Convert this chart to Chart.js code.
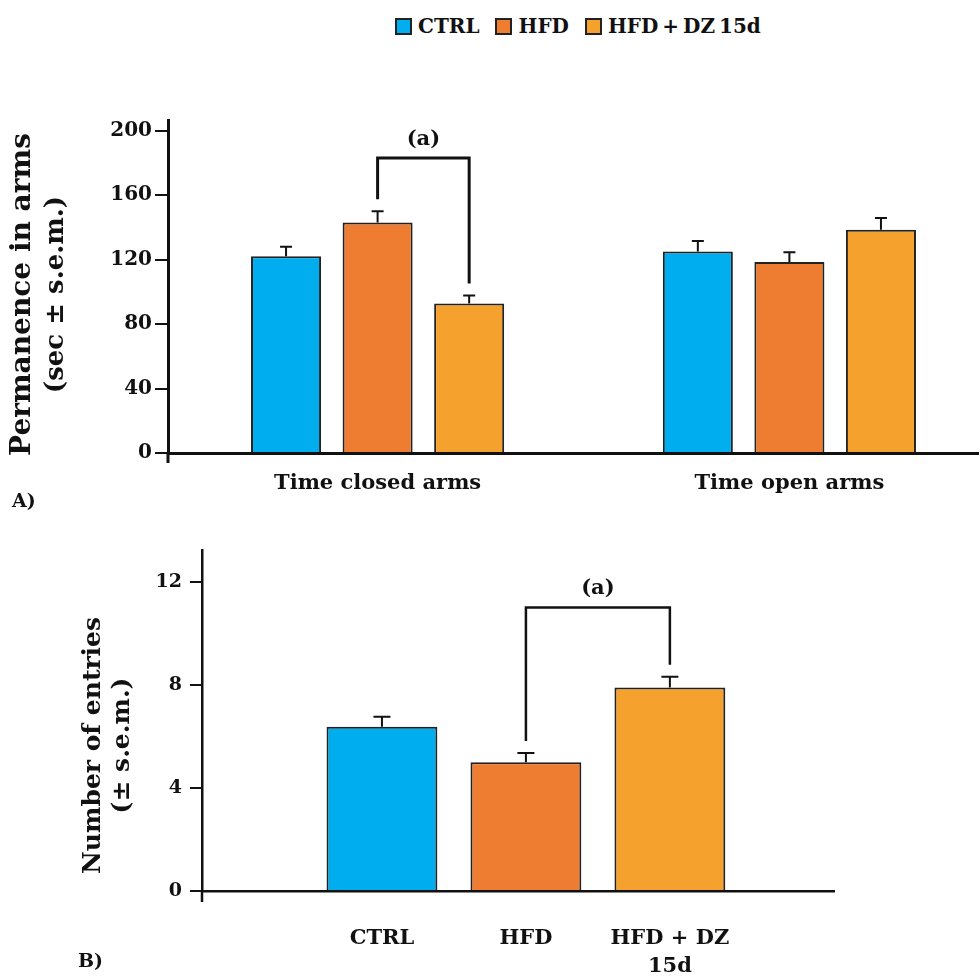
<!DOCTYPE html>
<html>
<head>
<meta charset="utf-8">
<script src="https://cdn.jsdelivr.net/npm/chart.js@4.4.1/dist/chart.umd.min.js"></script>
<style>
  html, body { margin: 0; padding: 0; background: #fff; }
  body { width: 980px; height: 976px; position: relative; overflow: hidden; font-family: 'DejaVu Serif', serif; color: #111; }
  #legend { position: absolute; left: 395px; top: 14px; display: flex; align-items: center; font-weight: bold; font-size: 20px; line-height: 24px; word-spacing: -3px; }
  #legend .item { display: flex; align-items: center; margin-right: 16px; }
  #legend .sw { width: 13px; height: 13px; border: 2px solid #222; margin-right: 6px; }
  #wrapA { position: absolute; left: 0; top: 0; width: 980px; height: 510px; }
  #wrapB { position: absolute; left: 0; top: 510px; width: 980px; height: 466px; }
  .panel { position: absolute; font-weight: bold; font-size: 19px; line-height: 20px; }
</style>
</head>
<body>
<div id="legend"></div>
<div id="wrapA"><canvas id="timeChart" width="980" height="510"></canvas></div>
<div id="wrapB"><canvas id="entryChart" width="980" height="466"></canvas></div>
<div class="panel" style="left:12px; top:490px;">A)</div>
<div class="panel" style="left:78px; top:950px;">B)</div>
<script>
// ---- Series ----
const seriesNames = ['CTRL', 'HFD', 'HFD + DZ 15d'];
const seriesColors = ['#00AEEF', '#EE7D31', '#F4A22D'];

// ---- Panel A: permanence in arms (s) ----
const armGroups = ['Time closed arms', 'Time open arms'];
const ctrlTime = [122, 125];
const hfdTime = [143, 118.5];
const hfdDzTime = [92.7, 138.5];
const ctrlTimeSem = [6, 6.5];
const hfdTimeSem = [7, 6];
const hfdDzTimeSem = [5, 7.3];
const timeTicks = [0, 40, 80, 120, 160, 200];
const timeBracketTop = 183;
const timeTitle = ['Permanence in arms', '(sec ± s.e.m.)'];

// ---- Panel B: number of entries ----
const entryLabels = [['CTRL'], ['HFD'], ['HFD + DZ', '15d']];
const entries = [6.37, 5.0, 7.9];
const entriesSem = [0.39, 0.35, 0.41];
const entryTicks = [0, 4, 8, 12];
const entryBracketTop = 11.0;
const entryTitle = ['Number of entries', '(± s.e.m.)'];

const FONT = "'DejaVu Serif', serif";
const INK = '#111';

// Legend built from the series arrays
const legendEl = document.getElementById('legend');
seriesNames.forEach((name, i) => {
  const item = document.createElement('div');
  item.className = 'item';
  const sw = document.createElement('span');
  sw.className = 'sw';
  sw.style.background = seriesColors[i];
  const tx = document.createElement('span');
  tx.textContent = name;
  item.appendChild(sw);
  item.appendChild(tx);
  legendEl.appendChild(item);
});

// Upward error bars (mean + s.e.m.) on every bar
const errorBars = {
  id: 'errorBars',
  afterDatasetsDraw(chart, args, opts) {
    const { ctx } = chart;
    const yScale = chart.scales.y;
    ctx.save();
    ctx.strokeStyle = INK;
    ctx.lineWidth = opts.width;
    chart.data.datasets.forEach((ds, di) => {
      const meta = chart.getDatasetMeta(di);
      meta.data.forEach((bar, i) => {
        const v = ds.data[i].y;
        const top = yScale.getPixelForValue(v + ds.sem[i]);
        ctx.beginPath();
        ctx.moveTo(bar.x, bar.y);
        ctx.lineTo(bar.x, top);
        ctx.moveTo(bar.x - opts.cap / 2, top);
        ctx.lineTo(bar.x + opts.cap / 2, top);
        ctx.stroke();
      });
    });
    ctx.restore();
  }
};

// Significance bracket between two bars with its label
const bracket = {
  id: 'bracket',
  afterDatasetsDraw(chart, args, opts) {
    const { ctx } = chart;
    const yScale = chart.scales.y;
    const endY = (ref) => {
      const ds = chart.data.datasets[ref.dataset];
      const bar = chart.getDatasetMeta(ref.dataset).data[ref.index];
      const v = ds.data[ref.index].y + ds.sem[ref.index];
      return { x: bar.x, y: yScale.getPixelForValue(v) - opts.gap };
    };
    const a = endY(opts.from);
    const b = endY(opts.to);
    const top = yScale.getPixelForValue(opts.top);
    ctx.save();
    ctx.strokeStyle = INK;
    ctx.lineWidth = opts.width;
    ctx.lineJoin = 'miter';
    ctx.beginPath();
    ctx.moveTo(a.x, a.y);
    ctx.lineTo(a.x, top);
    ctx.lineTo(b.x, top);
    ctx.lineTo(b.x, b.y);
    ctx.stroke();
    ctx.fillStyle = INK;
    ctx.font = 'bold 21px ' + FONT;
    ctx.textAlign = 'center';
    ctx.textBaseline = 'middle';
    ctx.fillText(opts.label, (a.x + b.x) / 2, top - opts.labelOffset);
    ctx.restore();
  }
};

// Short continuation of the y axis below the x axis
const axisStub = {
  id: 'axisStub',
  afterDraw(chart, args, opts) {
    const { ctx, chartArea } = chart;
    ctx.save();
    ctx.strokeStyle = INK;
    ctx.lineWidth = opts.width;
    ctx.beginPath();
    ctx.moveTo(chartArea.left, chartArea.bottom);
    ctx.lineTo(chartArea.left, chartArea.bottom + opts.length);
    ctx.stroke();
    ctx.restore();
  }
};

// Two-line rotated y-axis title, centred a little below the plot middle
const sideTitle = {
  id: 'sideTitle',
  afterDraw(chart, args, opts) {
    const { ctx, chartArea } = chart;
    const cy = (chartArea.top + chartArea.bottom) / 2 + opts.shift;
    ctx.save();
    ctx.fillStyle = INK;
    ctx.textAlign = 'center';
    ctx.textBaseline = 'middle';
    opts.text.forEach((line, i) => {
      ctx.save();
      ctx.font = 'bold ' + opts.sizes[i] + 'px ' + FONT;
      ctx.translate(opts.x + i * opts.lineStep, cy);
      ctx.rotate(-Math.PI / 2);
      ctx.fillText(line, 0, 0);
      ctx.restore();
    });
    ctx.restore();
  }
};

const toPoints = (arr) => arr.map((v, i) => ({ x: i + 1, y: v }));

// ---- Panel A chart ----
new Chart(document.getElementById('timeChart'), {
  type: 'bar',
  data: {
    datasets: [
      { label: seriesNames[0], data: toPoints(ctrlTime), sem: ctrlTimeSem, backgroundColor: seriesColors[0] },
      { label: seriesNames[1], data: toPoints(hfdTime), sem: hfdTimeSem, backgroundColor: seriesColors[1] },
      { label: seriesNames[2], data: toPoints(hfdDzTime), sem: hfdDzTimeSem, backgroundColor: seriesColors[2] }
    ]
  },
  options: {
    responsive: false,
    animation: false,
    layout: { padding: { top: 120, right: 2, left: 0, bottom: 0 } },
    datasets: { bar: { categoryPercentage: 0.667, barPercentage: 0.765, borderWidth: 2, borderColor: '#222' } },
    plugins: {
      legend: { display: false },
      tooltip: { enabled: false },
      errorBars: { width: 2, cap: 12 },
      bracket: { from: { dataset: 1, index: 0 }, to: { dataset: 2, index: 0 }, top: timeBracketTop, gap: 12, width: 3, label: '(a)', labelOffset: 18 },
      axisStub: { width: 3, length: 10 },
      sideTitle: { text: timeTitle, sizes: [28, 26], x: 23, lineStep: 33, shift: 8 }
    },
    scales: {
      x: {
        type: 'linear',
        offset: false,
        min: 0.491,
        max: 2.458,
        afterBuildTicks(scale) { scale.ticks = armGroups.map((g, i) => ({ value: i + 1 })); },
        afterFit(scale) { scale.height = 57; },
        grid: { display: false, drawTicks: false },
        border: { display: true, color: INK, width: 3 },
        ticks: {
          autoSkip: false, maxRotation: 0, padding: 18, color: INK,
          font: { family: FONT, size: 21, weight: 'bold' },
          callback: (v, i) => armGroups[i]
        }
      },
      y: {
        min: 0,
        max: 206.6,
        afterBuildTicks(scale) { scale.ticks = timeTicks.map(v => ({ value: v })); },
        afterFit(scale) { scale.width = 168; },
        grid: { drawOnChartArea: false, drawTicks: true, tickLength: 13, color: INK, lineWidth: 2 },
        border: { display: true, color: INK, width: 3 },
        ticks: { padding: 3, color: INK, font: { family: FONT, size: 20, weight: 'bold' } }
      }
    }
  },
  plugins: [errorBars, bracket, axisStub, sideTitle]
});

// ---- Panel B chart ----
new Chart(document.getElementById('entryChart'), {
  type: 'bar',
  data: {
    datasets: [
      { label: 'Entries', data: toPoints(entries), sem: entriesSem, backgroundColor: seriesColors }
    ]
  },
  options: {
    responsive: false,
    animation: false,
    layout: { padding: { top: 40, right: 146, left: 0, bottom: 0 } },
    datasets: { bar: { categoryPercentage: 1, barPercentage: 0.77, borderWidth: 2, borderColor: '#222' } },
    plugins: {
      legend: { display: false },
      tooltip: { enabled: false },
      errorBars: { width: 2, cap: 17 },
      bracket: { from: { dataset: 0, index: 1 }, to: { dataset: 0, index: 2 }, top: entryBracketTop, gap: 12, width: 2.5, label: '(a)', labelOffset: 19 },
      axisStub: { width: 2.5, length: 11 },
      sideTitle: { text: entryTitle, sizes: [25, 25], x: 93, lineStep: 29, shift: 25 }
    },
    scales: {
      x: {
        type: 'linear',
        offset: false,
        min: -0.25,
        max: 4.14,
        afterBuildTicks(scale) { scale.ticks = entryLabels.map((g, i) => ({ value: i + 1 })); },
        afterFit(scale) { scale.height = 85; },
        grid: { display: false, drawTicks: false },
        border: { display: true, color: INK, width: 2.5 },
        ticks: {
          autoSkip: false, maxRotation: 0, padding: 33, color: INK,
          font: { family: FONT, size: 21, weight: 'bold', lineHeight: 1.35 },
          callback: (v, i) => entryLabels[i]
        }
      },
      y: {
        min: 0,
        max: 13.23,
        afterBuildTicks(scale) { scale.ticks = entryTicks.map(v => ({ value: v })); },
        afterFit(scale) { scale.width = 202; },
        grid: { drawOnChartArea: false, drawTicks: true, tickLength: 12, color: INK, lineWidth: 2 },
        border: { display: true, color: INK, width: 2.5 },
        ticks: { padding: 8, color: INK, font: { family: FONT, size: 19, weight: 'bold' } }
      }
    }
  },
  plugins: [errorBars, bracket, axisStub, sideTitle]
});
</script>
</body>
</html>
